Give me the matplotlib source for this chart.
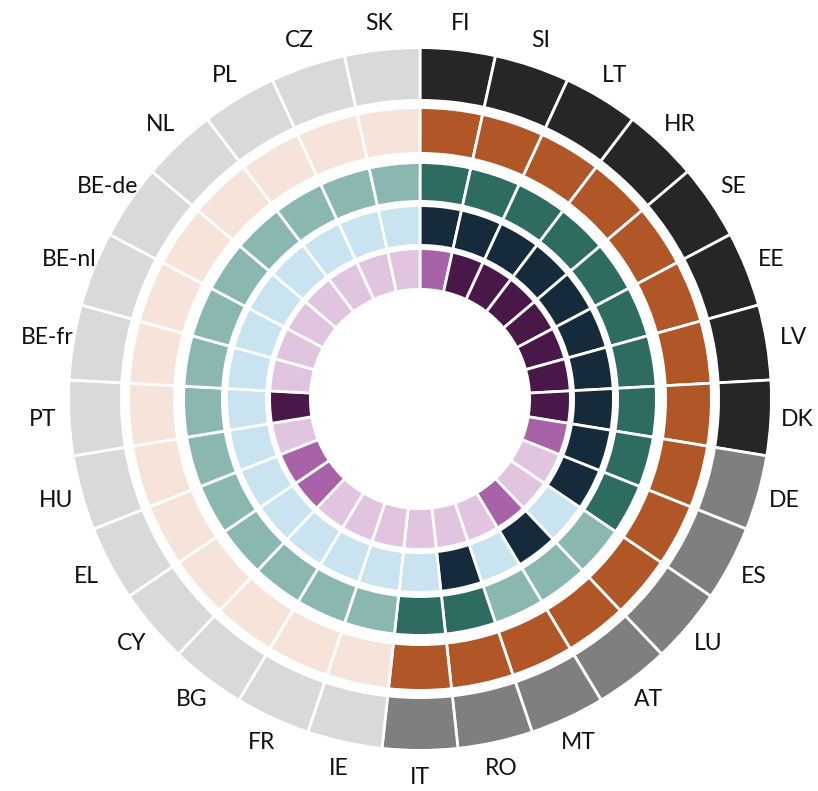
import numpy as np
import matplotlib
matplotlib.use("Agg")
import matplotlib.pyplot as plt

countries = ["FI", "SI", "LT", "HR", "SE", "EE", "LV", "DK", "DE", "ES", "LU", "AT",
             "MT", "RO", "IT", "IE", "FR", "BG", "CY", "EL", "HU", "PT", "BE-fr",
             "BE-nl", "BE-de", "NL", "PL", "CZ", "SK"]

# category level of each country in each ring (outer -> inner)
ring1 = [2, 2, 2, 2, 2, 2, 2, 2, 1, 1, 1, 1, 1, 1, 1, 0, 0, 0, 0, 0, 0, 0, 0, 0, 0, 0, 0, 0, 0]
ring2 = [1, 1, 1, 1, 1, 1, 1, 1, 1, 1, 1, 1, 1, 1, 1, 0, 0, 0, 0, 0, 0, 0, 0, 0, 0, 0, 0, 0, 0]
ring3 = [1, 1, 1, 1, 1, 1, 1, 1, 1, 1, 0, 0, 0, 1, 1, 0, 0, 0, 0, 0, 0, 0, 0, 0, 0, 0, 0, 0, 0]
ring4 = [1, 1, 1, 1, 1, 1, 1, 1, 1, 1, 0, 1, 0, 1, 0, 0, 0, 0, 0, 0, 0, 0, 0, 0, 0, 0, 0, 0, 0]
ring5 = [1, 2, 2, 2, 2, 2, 2, 2, 1, 0, 0, 1, 0, 0, 0, 0, 0, 0, 1, 1, 0, 2, 0, 0, 0, 0, 0, 0, 0]

palettes = [
    ["#d9d9d9", "#7f7f7f", "#262626"],
    ["#f6e4da", "#b15627"],
    ["#8ab8b1", "#2e6c62"],
    ["#c9e3f1", "#152b3b"],
    ["#e1c5e0", "#a862a8", "#4a1848"],
]
# (inner, outer) radius of each ring in pixel-like units
ring_extent = [(298.6, 351.4), (245.6, 291.4), (197.6, 236.4), (153.6, 193.4), (109.6, 150.4)]
rings = [ring1, ring2, ring3, ring4, ring5]

W, H = 818, 791
fig = plt.figure(figsize=(W / 100, H / 100), dpi=100)
cx, cy = 420, 791 - 399
R = 355
ax = fig.add_axes([(cx - R) / W, (cy - R) / H, 2 * R / W, 2 * R / H], projection="polar")
ax.set_theta_zero_location("N")
ax.set_theta_direction(-1)

n = len(countries)
width = 2 * np.pi / n
theta = np.arange(n) * width + width / 2

for levels, pal, (r0, r1) in zip(rings, palettes, ring_extent):
    cols = [pal[v] for v in levels]
    ax.bar(theta, r1 - r0, width=width, bottom=r0, color=cols,
           edgecolor="white", linewidth=2.0, align="center")

for t, name in zip(theta, countries):
    ax.text(t, 378, name, ha="center", va="center", fontsize=16.5,
            family=["Lato", "DejaVu Sans"], color="#111111")

ax.set_ylim(0, R)
ax.set_axis_off()

fig.savefig("out.png", dpi=100, facecolor="white")
